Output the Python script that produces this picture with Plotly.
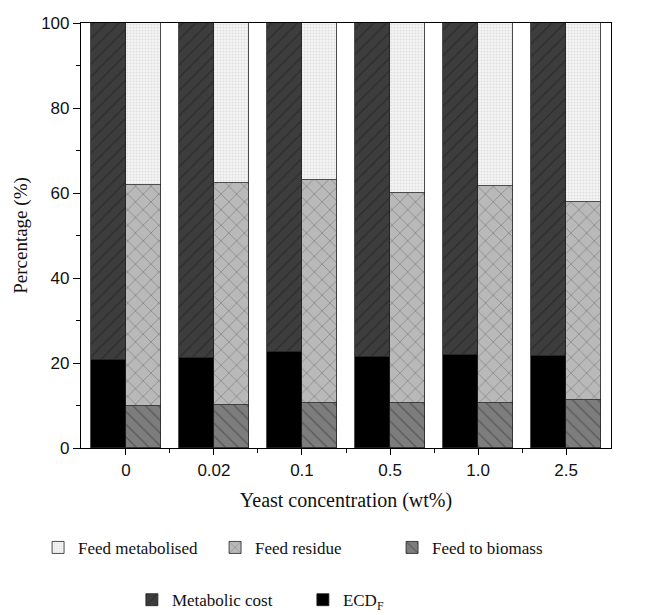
import plotly.graph_objects as go

categories = ["0", "0.02", "0.1", "0.5", "1.0", "2.5"]
ecd_f = [20.7, 21.1, 22.7, 21.4, 21.8, 21.6]
metabolic_cost = [100 - v for v in ecd_f]
feed_to_biomass = [9.9, 10.1, 10.7, 10.7, 10.5, 11.3]
feed_residue_top = [61.8, 62.3, 63.0, 60.1, 61.6, 58.0]
feed_residue = [t - b for t, b in zip(feed_residue_top, feed_to_biomass)]
feed_metabolised = [100 - t for t in feed_residue_top]

idx = list(range(len(categories)))
x_left = [i - 0.2 for i in idx]
x_right = [i + 0.2 for i in idx]

serif = "Liberation Serif, Times New Roman, serif"
sans = "Liberation Sans, Arial, sans-serif"
outline = dict(color="#222222", width=0.8)

fig = go.Figure()

# right bar stack
fig.add_trace(go.Bar(x=x_right, y=feed_to_biomass, width=0.4, name="Feed to biomass", legend="legend",
                     marker=dict(color="#7d7d7d", line=outline,
                                 pattern=dict(shape="\\", fgcolor="#333333", bgcolor="#7d7d7d",
                                              size=9, solidity=0.15, fillmode="overlay"))))
fig.add_trace(go.Bar(x=x_right, y=feed_residue, width=0.4, name="Feed residue", legend="legend",
                     marker=dict(color="#b9b9b9", line=outline,
                                 pattern=dict(shape="x", fgcolor="#444444", bgcolor="#b9b9b9",
                                              size=11, solidity=0.12, fillmode="overlay"))))
fig.add_trace(go.Bar(x=x_right, y=feed_metabolised, width=0.4, name="Feed metabolised", legend="legend",
                     marker=dict(color="#f6f6f6", line=outline,
                                 pattern=dict(shape=".", fgcolor="#c8c8c8", bgcolor="#f6f6f6",
                                              size=3, solidity=0.4, fillmode="overlay"))))
# left bar stack
fig.add_trace(go.Bar(x=x_left, y=ecd_f, width=0.4, name="ECD<sub>F</sub>", legend="legend2",
                     marker=dict(color="#000000", line=outline)))
fig.add_trace(go.Bar(x=x_left, y=metabolic_cost, width=0.4, name="Metabolic cost", legend="legend2",
                     marker=dict(color="#3d3d3d", line=outline,
                                 pattern=dict(shape="/", fgcolor="#1e1e1e", bgcolor="#3d3d3d",
                                              size=9, solidity=0.15, fillmode="overlay"))))

fig.update_layout(
    width=643, height=607,
    barmode="stack",
    plot_bgcolor="white", paper_bgcolor="white",
    margin=dict(l=73, r=40, t=15, b=167, autoexpand=False),
    font=dict(family=sans, size=17, color="#111111"),
    xaxis=dict(
        range=[-0.51, 5.51], tickmode="array", tickvals=idx, ticktext=categories,
        ticks="outside", ticklen=6, tickwidth=1.2, tickcolor="black",
        showline=True, linecolor="black", linewidth=1.2, mirror=True,
        showgrid=False, zeroline=False, automargin=False,
        minor=dict(tickmode="array", tickvals=[i + 0.5 for i in idx[:-1]], ticks="outside",
                   ticklen=4, tickcolor="black"),
        title=dict(text="Yeast concentration (wt%)", font=dict(family=serif, size=20), standoff=14),
        tickfont=dict(family=sans, size=17),
    ),
    yaxis=dict(
        range=[0, 100], tickmode="array", tickvals=[0, 20, 40, 60, 80, 100],
        ticks="outside", ticklen=7, tickwidth=1.2, tickcolor="black",
        showline=True, linecolor="black", linewidth=1.2, mirror=True,
        showgrid=False, zeroline=False, automargin=False,
        minor=dict(tickmode="array", tickvals=[10, 30, 50, 70, 90], ticks="outside",
                   ticklen=4, tickcolor="black"),
        title=dict(text="Percentage (%)", font=dict(family=serif, size=19), standoff=8),
        tickfont=dict(family=sans, size=17),
    ),
    legend=dict(orientation="h", x=-0.081, y=-0.235, xanchor="left", yanchor="middle",
                traceorder="reversed", entrywidth=132, entrywidthmode="pixels",
                font=dict(family=serif, size=17), bgcolor="rgba(0,0,0,0)"),
    legend2=dict(orientation="h", x=0.096, y=-0.358, xanchor="left", yanchor="middle",
                 traceorder="reversed", entrywidth=126, entrywidthmode="pixels",
                 font=dict(family=serif, size=17), bgcolor="rgba(0,0,0,0)"),
    bargap=0,
)

fig.write_html("out.html")
